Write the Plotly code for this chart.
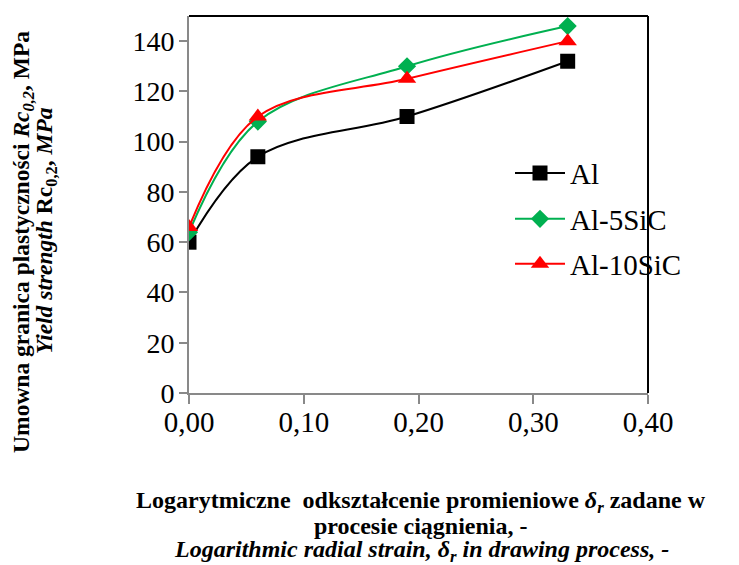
import plotly.graph_objects as go

strain = [0.0, 0.06, 0.19, 0.33]
al = [60, 94, 110, 132]
al5sic = [64, 108, 130, 146]
al10sic = [66, 110, 125, 140]
x_ticks = [0.0, 0.1, 0.2, 0.3, 0.4]
x_tick_labels = ["0,00", "0,10", "0,20", "0,30", "0,40"]
y_ticks = [0, 20, 40, 60, 80, 100, 120, 140]

x_title_lines = [
    "<b>Logarytmiczne  odkształcenie promieniowe <i>δ<sub>r</sub></i> zadane w</b>",
    "<b>procesie ciągnienia, -</b>",
    "<b><i>Logarithmic radial strain, δ<sub>r</sub> in drawing process, -</i></b>",
]
y_title_lines = [
    "<b>Umowna granica plastyczności <i>Rc<sub>0,2</sub></i>, MPa</b>",
    "<b><i>Yield strength</i> Rc<sub>0,2</sub>, <i>MPa</i></b>",
]

W, H = 739, 565
L, R, T, B = 189, 91, 15.5, 171.5
ph = H - T - B

def py(Y):
    return (H - B - Y) / ph

def px(X):
    return (X - L) / (W - L - R)

FONT = "Liberation Serif"

fig = go.Figure()
fig.add_trace(go.Scatter(x=strain, y=al, name="Al", mode="lines+markers", legend="legend",
                         line=dict(color="#000000", width=2, shape="spline"),
                         marker=dict(symbol="square", size=15, color="#000000")))
fig.add_trace(go.Scatter(x=strain, y=al5sic, name="Al-5SiC", mode="lines+markers", legend="legend2",
                         line=dict(color="#00b050", width=2, shape="spline"),
                         marker=dict(symbol="diamond", size=14, color="#00b050")))
fig.add_trace(go.Scatter(x=strain, y=al10sic, name="Al-10SiC", mode="lines+markers", legend="legend3",
                         line=dict(color="#ff0000", width=2, shape="spline"),
                         marker=dict(symbol="triangle-up", size=16, color="#ff0000")))

leg_common = dict(xanchor="left", yanchor="middle",
                  font=dict(family=FONT, size=29, color="black"),
                  bgcolor="rgba(0,0,0,0)", itemwidth=50)

annotations = []
for ypix, txt in zip([503, 527, 552], x_title_lines):
    annotations.append(dict(xref="paper", yref="paper", x=px(421), y=py(ypix),
                            xanchor="center", yanchor="middle", showarrow=False,
                            font=dict(family=FONT, size=24, color="black"), text=txt))
for (xpix, ypix), txt in zip([(23, 242), (46, 231)], y_title_lines):
    annotations.append(dict(xref="paper", yref="paper", x=px(xpix), y=py(ypix),
                            xanchor="center", yanchor="middle", showarrow=False, textangle=-90,
                            font=dict(family=FONT, size=23.5, color="black"), text=txt))

fig.update_layout(
    width=W, height=H,
    margin=dict(l=L, r=R, t=T, b=B, pad=0),
    paper_bgcolor="white", plot_bgcolor="white",
    font=dict(family=FONT, color="black", size=22),
    showlegend=True,
    legend=dict(x=px(510), y=py(173), **leg_common),
    legend2=dict(x=px(510), y=py(219), **leg_common),
    legend3=dict(x=px(510), y=py(264), **leg_common),
    xaxis=dict(range=[0, 0.4], tickvals=x_ticks, ticktext=x_tick_labels,
               showgrid=False, zeroline=False, showline=True, linecolor="#898989", linewidth=2,
               ticks="outside", ticklen=9, tickcolor="#898989", tickwidth=2,
               mirror=False, tickfont=dict(family=FONT, size=29), ticklabelstandoff=-7),
    yaxis=dict(range=[0, 150], tickvals=y_ticks,
               showgrid=False, zeroline=False, showline=True, linecolor="#898989", linewidth=2,
               ticks="outside", ticklen=8, tickcolor="#898989", tickwidth=2,
               tickfont=dict(family=FONT, size=28), ticklabelstandoff=-1),
    shapes=[
        dict(type="line", xref="paper", yref="paper", x0=0, x1=1, y0=1, y1=1,
             line=dict(color="black", width=2)),
        dict(type="line", xref="paper", yref="paper", x0=1, x1=1, y0=0, y1=1,
             line=dict(color="black", width=2)),
    ],
    annotations=annotations,
)

fig.write_html("out.html")
